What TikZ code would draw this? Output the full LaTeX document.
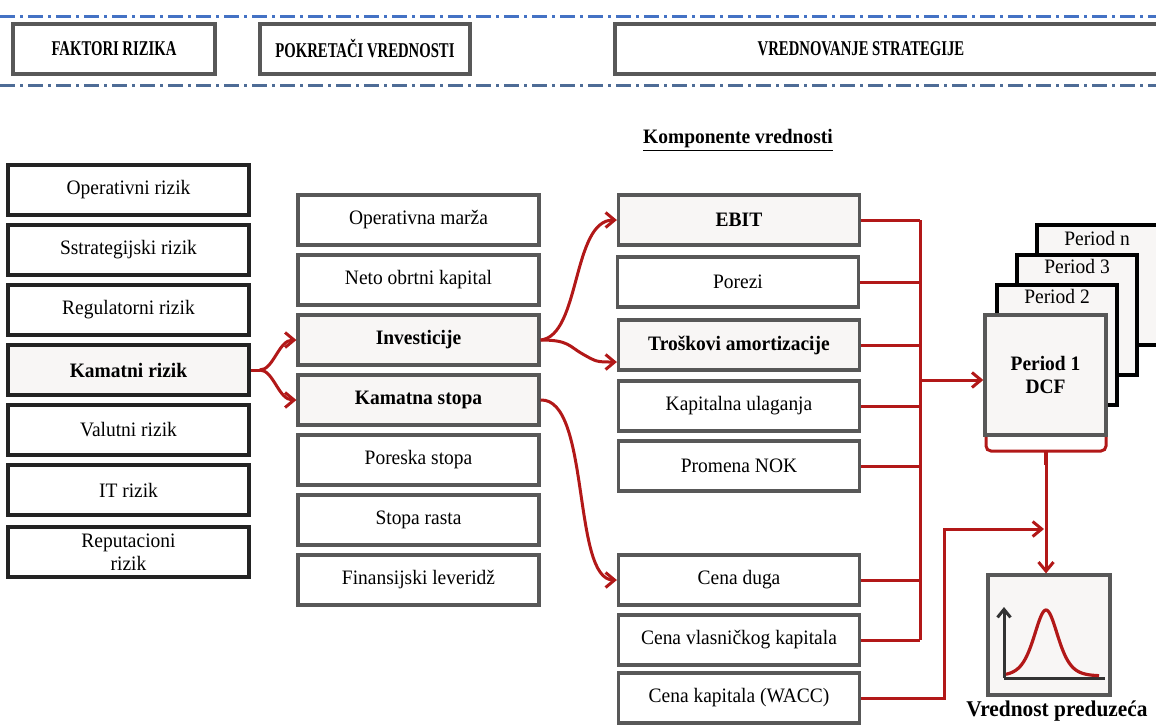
\documentclass[tikz,border=0pt]{standalone}
\usepackage{fontspec}
\setmainfont{Liberation Serif}[FakeStretch=0.95]
\newfontfamily\hdrfont[FakeStretch=0.7]{Liberation Serif}
\usetikzlibrary{arrows.meta,calc}

\definecolor{rline}{RGB}{178,24,24}
\definecolor{frameL}{RGB}{35,35,35}
\definecolor{frameG}{RGB}{88,88,88}
\definecolor{softfill}{RGB}{248,246,245}
\definecolor{dashA}{RGB}{68,114,196}
\definecolor{dashB}{RGB}{78,108,150}

\tikzset{
  body/.style={font=\fontsize{20.5}{22.5}\selectfont},
  riskbox/.style={body, draw=frameL, line width=3.4pt, minimum width=241pt, minimum height=50pt, inner sep=0pt, fill=white, align=center},
  drvbox/.style={body, draw=frameG, line width=3.2pt, minimum width=241pt, minimum height=50pt, inner sep=0pt, fill=white, align=center},
  hilite/.style={fill=softfill, font=\fontsize{20.5}{22.5}\selectfont\bfseries},
  hdrbox/.style={draw=frameG, line width=3.2pt, minimum height=50pt, inner sep=0pt, fill=white},
  hdrtext/.style={font=\hdrfont\fontsize{21}{23}\selectfont\bfseries},
  sepline/.style={line width=3pt, dash pattern=on 15pt off 5pt on 3pt off 5pt},
  rl/.style={draw=rline, line width=3pt},
  rarrow/.style={rl, -{Straight Barb[length=9pt,width=15pt,line width=3pt]}},
  perbox/.style={draw=black, line width=3.4pt, fill=softfill, minimum width=120pt, minimum height=120pt, inner sep=0pt},
  pertext/.style={body, inner sep=0pt}
}

\begin{document}
\begin{tikzpicture}[x=1pt,y=-1pt]
\useasboundingbox (0,0) rectangle (1156,724);

% separator lines
\draw[sepline, dashA] (0,16) -- (1156,16);
\draw[sepline, dashB] (0,85) -- (1156,85);

% headings
\node[hdrbox, minimum width=202pt] (h1) at (114,49) {};
\node[hdrtext] (h1t) at (h1.center) {FAKTORI RIZIKA};
\node[hdrbox, minimum width=210pt] (h2) at (365,49) {};
\node[hdrtext] (h2t) at (h2.center) {POKRETAČI VREDNOSTI};
\node[hdrbox, minimum width=560pt] (h3) at (895,49) {};
\node[hdrtext] (h3t) at (861,49) {VREDNOVANJE STRATEGIJE};

% risk factors
\node[riskbox] (r1) at (128.5,190) {Operativni rizik};
\node[riskbox] (r2) at (128.5,250) {Sstrategijski rizik};
\node[riskbox] (r3) at (128.5,310) {Regulatorni rizik};
\node[riskbox, hilite] (r4) at (128.5,370) {Kamatni rizik};
\node[riskbox] (r5) at (128.5,430) {Valutni rizik};
\node[riskbox] (r6) at (128.5,490) {IT rizik};
\node[riskbox] (r7) at (128.5,552) {Reputacioni\\rizik};

% value drivers
\node[drvbox] (d1) at (418.5,220) {Operativna marža};
\node[drvbox] (d2) at (418.5,280) {Neto obrtni kapital};
\node[drvbox, hilite] (d3) at (418.5,340) {Investicije};
\node[drvbox, hilite] (d4) at (418.5,400) {Kamatna stopa};
\node[drvbox] (d5) at (418.5,460) {Poreska stopa};
\node[drvbox] (d6) at (418.5,520) {Stopa rasta};
\node[drvbox] (d7) at (418.5,580) {Finansijski leveridž};

% value components
\node[font=\fontsize{20.5}{22}\selectfont\bfseries] (kt) at (738,140) {\underline{Komponente vrednosti}};
\node[drvbox, hilite] (c1) at (739,220) {EBIT};
\node[drvbox] (c2) at (738,282) {Porezi};
\node[drvbox, hilite] (c3) at (739,345) {Troškovi amortizacije};
\node[drvbox] (c4) at (739,406) {Kapitalna ulaganja};
\node[drvbox] (c5) at (739,466) {Promena NOK};
\node[drvbox] (c6) at (739,580) {Cena duga};
\node[drvbox] (c7) at (739,640) {Cena vlasničkog kapitala};
\node[drvbox] (c8) at (739,698) {Cena kapitala (WACC)};

% stacked periods
\node[perbox, minimum width=134pt] (pn) at (1104,285) {};
\node[pertext, below=6pt] (pnt) at (1097,225) {Period n};
\node[perbox] (p3) at (1077,315) {};
\node[pertext, below=6pt] (p3t) at (p3.north) {Period 3};
\node[perbox] (p2) at (1057,345) {};
\node[pertext, below=6pt] (p2t) at (p2.north) {Period 2};
\node[perbox, draw=frameG, minimum width=121pt] (p1) at (1045.5,375) {};
\node[body, font=\fontsize{20.5}{23}\selectfont\bfseries, align=center] (p1t) at (1045.5,375) {Period 1\\DCF};

% enterprise value box with distribution
\node[draw=frameG, line width=3.2pt, fill=softfill, minimum width=122pt, minimum height=120pt, inner sep=0pt] (val) at (1049,635) {};
\node[font=\fontsize{22.5}{24}\selectfont\bfseries, anchor=north] (valt) at (1057,697) {Vrednost preduzeća};
\draw[draw=black!80, line width=3pt, -{Straight Barb[length=8pt,width=13pt,line width=3pt]}] (1004,678) -- (1004,607);
\draw[draw=black!80, line width=3pt] (1004,678) -- (1105,678);
\draw[rl, line width=3.2pt] plot[domain=1006:1099, samples=90] (\x, {676-66/(cosh((\x-1046)/16))^2});

% risk factor to drivers
\draw[rl] (r4.east) -- ++(9,0) coordinate (f1);
\draw[rarrow] (f1) .. controls +(14,0) and +(-18,0) .. (d3.west);
\draw[rarrow] (f1) .. controls +(14,0) and +(-18,0) .. (d4.west);

% drivers to components
\draw[rarrow] (d3.east) .. controls +(40,-4) and +(-45,0) .. (c1.west);
\draw[rarrow] (d3.east) .. controls +(28,0) and +(-14,-8) .. ($(d3.east)+(42,14)$) .. controls +(14,8) and +(-20,0) .. ($(c3.west)+(0,17)$);
\draw[rarrow] (d4.east) .. controls +(50,-2) and +(-45,0) .. (c6.west);

% components collected into the DCF
\coordinate (bus) at (920,0);
\draw[rl] (c1.east) -- (c1.east -| bus);
\draw[rl] (c2.east) -- (c2.east -| bus);
\draw[rl] (c3.east) -- (c3.east -| bus);
\draw[rl] (c4.east) -- (c4.east -| bus);
\draw[rl] (c5.east) -- (c5.east -| bus);
\draw[rl] (c6.east) -- (c6.east -| bus);
\draw[rl] (c7.east) -- (c7.east -| bus);
\draw[rl] (c1.east -| bus) -- (c7.east -| bus);
\coordinate (j) at (920,380);
\draw[rarrow] (j) -- (j -| p1.west);

% bracket under the periods and path to enterprise value
\draw[rl, rounded corners=5pt] (986,437) -- (986,451) -- (1106,451) -- (1106,437);
\coordinate (brk) at (1046,451);
\draw[rl, line width=3.6pt] (brk) -- ++(0,14) coordinate (brk2);
\draw[rarrow] (brk2) -- (brk2 |- val.north);
\coordinate (m) at (1044,529);
\draw[rarrow] (c8.east) -- ++(83,0) |- (m);
\end{tikzpicture}
\end{document}
